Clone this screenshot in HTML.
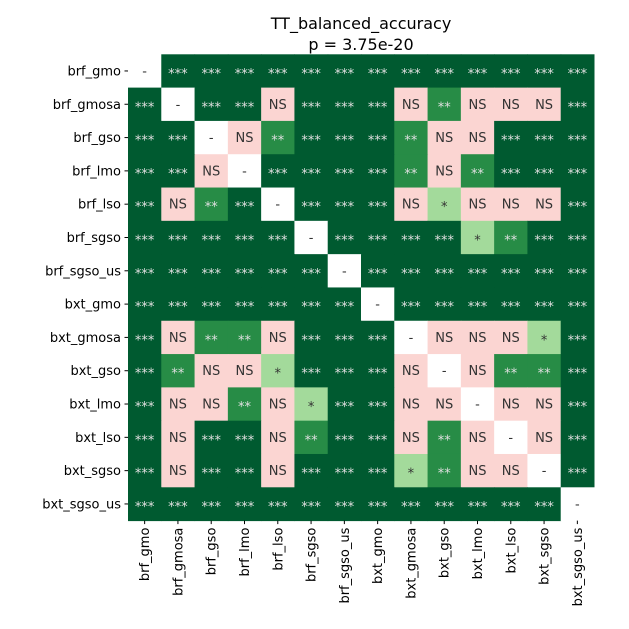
<!DOCTYPE html>
<html><head><meta charset="utf-8"><style>
body{margin:0;background:#fff}
svg{display:block;font-family:"DejaVu Sans","Liberation Sans",sans-serif}
</style></head><body>
<svg id="chart" width="629" height="629" viewBox="0 0 629 629">
<text x="361" y="29" text-anchor="middle" font-size="16">TT_balanced_accuracy</text>
<text x="361" y="50" text-anchor="middle" font-size="16">p = 3.75e-20</text>
<g id="cells"></g><g id="ticks"></g>
</svg>
<script>
const labels=["brf_gmo","brf_gmosa","brf_gso","brf_lmo","brf_lso","brf_sgso","brf_sgso_us","bxt_gmo","bxt_gmosa","bxt_gso","bxt_lmo","bxt_lso","bxt_sgso","bxt_sgso_us"];
const row0=["-","***","***","***","***","***","***","***","***","***","***","***","***","***"];
const row1=["***","-","***","***","NS","***","***","***","NS","**","NS","NS","NS","***"];
const row2=["***","***","-","NS","**","***","***","***","**","NS","NS","***","***","***"];
const row3=["***","***","NS","-","***","***","***","***","**","NS","**","***","***","***"];
const row4=["***","NS","**","***","-","***","***","***","NS","*","NS","NS","NS","***"];
const row5=["***","***","***","***","***","-","***","***","***","***","*","**","***","***"];
const row6=["***","***","***","***","***","***","-","***","***","***","***","***","***","***"];
const row7=["***","***","***","***","***","***","***","-","***","***","***","***","***","***"];
const row8=["***","NS","**","**","NS","***","***","***","-","NS","NS","NS","*","***"];
const row9=["***","**","NS","NS","*","***","***","***","NS","-","NS","**","**","***"];
const row10=["***","NS","NS","**","NS","*","***","***","NS","NS","-","NS","NS","***"];
const row11=["***","NS","***","***","NS","**","***","***","NS","**","NS","-","NS","***"];
const row12=["***","NS","***","***","NS","***","***","***","*","**","NS","NS","-","***"];
const row13=["***","***","***","***","***","***","***","***","***","***","***","***","***","-"];
const matrix=[row0,row1,row2,row3,row4,row5,row6,row7,row8,row9,row10,row11,row12,row13];
const L=128,T=54.3,W=466,H=466.3,n=labels.length;
const cw=W/n,ch=H/n;
const xs=i=>L+i*cw, ys=i=>T+i*ch;
const fill={"***":"#005a30","**":"#278c46","*":"#a3da9b","NS":"#fbd5d2","-":"#ffffff"};
const tcol={"***":"#e0e0e0","**":"#e0e0e0","*":"#333","NS":"#333","-":"#333"};
const NS="http://www.w3.org/2000/svg";
const cells=document.getElementById('cells'),ticks=document.getElementById('ticks');
for(let r=0;r<n;r++)for(let c=0;c<n;c++){
 const v=matrix[r][c];
 const rect=document.createElementNS(NS,'rect');
 rect.setAttribute('x',xs(c));rect.setAttribute('y',ys(r));
 rect.setAttribute('width',cw+0.5);rect.setAttribute('height',ch+0.5);
 rect.setAttribute('fill',fill[v]);
 
 
 cells.appendChild(rect);
 const t=document.createElementNS(NS,'text');
 t.setAttribute('x',xs(c)+cw/2);t.setAttribute('y',ys(r)+ch/2+(v.indexOf('*')>=0?7:4.5));
 t.setAttribute('text-anchor','middle');t.setAttribute('font-size','13');
 t.setAttribute('fill',tcol[v]);t.textContent=v;
 
 
 cells.appendChild(t);
}
for(let i=0;i<n;i++){
 const yc=ys(i)+ch/2, xc=xs(i)+cw/2;
 const l1=document.createElementNS(NS,'line');
 l1.setAttribute('x1',L-3.5);l1.setAttribute('x2',L);l1.setAttribute('y1',yc);l1.setAttribute('y2',yc);l1.setAttribute('stroke','#000');
 
 
 ticks.appendChild(l1);
 const ty=document.createElementNS(NS,'text');
 ty.setAttribute('x',L-7);ty.setAttribute('y',yc+4.5);ty.setAttribute('text-anchor','end');ty.setAttribute('font-size','13');
 ty.textContent=labels[i];
 
 
 ticks.appendChild(ty);
 const l2=document.createElementNS(NS,'line');
 l2.setAttribute('x1',xc);l2.setAttribute('x2',xc);l2.setAttribute('y1',T+H);l2.setAttribute('y2',T+H+3.5);l2.setAttribute('stroke','#000');
 
 
 ticks.appendChild(l2);
 const tx=document.createElementNS(NS,'text');
 tx.setAttribute('transform','translate('+(xc+4.5)+','+(T+H+7)+') rotate(-90)');
 tx.setAttribute('text-anchor','end');tx.setAttribute('font-size','13');
 tx.textContent=labels[i];
 
 
 ticks.appendChild(tx);
}
</script>
</body></html>
